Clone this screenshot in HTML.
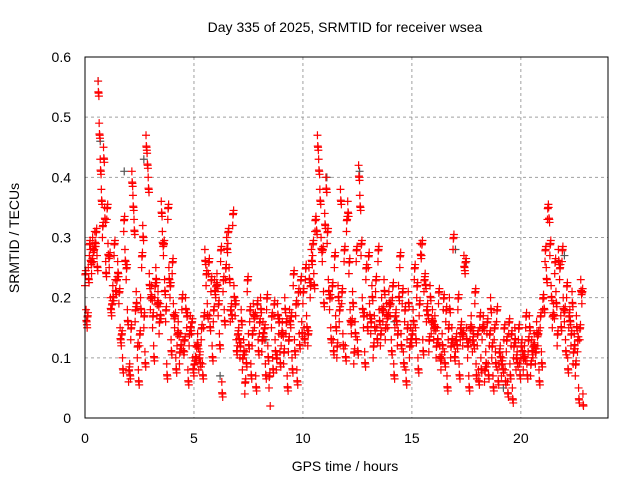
<!DOCTYPE html>
<html><head><meta charset="utf-8"><style>
body{margin:0;background:#fff;}
svg{font-family:"Liberation Sans",sans-serif;}
</style></head><body>
<svg id="chart" width="640" height="480" xmlns="http://www.w3.org/2000/svg">
<rect width="640" height="480" fill="#fff"/>
<text x="345" y="32" font-size="14" text-anchor="middle">Day 335 of 2025, SRMTID for receiver wsea</text>
<g id="grid"></g>
<g id="ticks"></g>
<g id="grayPts"></g>
<g id="redPts"></g>
<rect x="85" y="57" width="523" height="361" fill="none" stroke="#000"/>
<text x="345" y="471" font-size="14" text-anchor="middle">GPS time / hours</text>
<text x="19" y="238" font-size="14" text-anchor="middle" transform="rotate(-90 19 238)">SRMTID / TECUs</text>
</svg>
<script>
const xTicks=[0,5,10,15,20];
const yTicks=[0,0.1,0.2,0.3,0.4,0.5,0.6];
const yTickLabels=["0","0.1","0.2","0.3","0.4","0.5","0.6"];
const hourStarts=[0,1,2,3,4,5,6,7,8,9,10,11,12,13,14,15,16,17,18,19,20,21,22];
const redValues=[
[0.22,0.18,0.15,0.25,0.27,0.28,0.24,0.30,0.26,0.31,0.29,0.27,0.56,0.49,0.43,0.38,0.30,0.45,0.35,0.26],
[0.33,0.29,0.25,0.20,0.17,0.22,0.27,0.23,0.21,0.26,0.19,0.15,0.12,0.10,0.31,0.28,0.23,0.18],
[0.06,0.09,0.13,0.41,0.37,0.33,0.16,0.21,0.10,0.08,0.12,0.20,0.25,0.32,0.15,0.11,0.47,0.44,0.40,0.24],
[0.18,0.22,0.15,0.12,0.20,0.25,0.17,0.21,0.14,0.19,0.36,0.31,0.27,0.23,0.16,0.09,0.33,0.25,0.20,0.13],
[0.24,0.19,0.15,0.10,0.12,0.16,0.09,0.14,0.18,0.13,0.11,0.20,0.15,0.08,0.12,0.17,0.14,0.10],
[0.07,0.12,0.10,0.14,0.08,0.11,0.13,0.09,0.15,0.28,0.22,0.19,0.24,0.17,0.21,0.12,0.16,0.23],
[0.20,0.24,0.17,0.14,0.26,0.06,0.21,0.18,0.23,0.30,0.29,0.25,0.16,0.19,0.32,0.22,0.17,0.13],
[0.12,0.15,0.10,0.18,0.08,0.13,0.04,0.11,0.21,0.14,0.16,0.09,0.12,0.19,0.15,0.07,0.17,0.13],
[0.14,0.20,0.11,0.16,0.13,0.09,0.18,0.12,0.05,0.02,0.15,0.10,0.17,0.13,0.08,0.19,0.14,0.11],
[0.12,0.16,0.09,0.20,0.14,0.07,0.11,0.18,0.15,0.10,0.22,0.13,0.17,0.08,0.19,0.14,0.21,0.16],
[0.19,0.15,0.23,0.17,0.12,0.25,0.20,0.28,0.27,0.24,0.31,0.33,0.47,0.43,0.38,0.30,0.26,0.21],
[0.34,0.40,0.29,0.23,0.18,0.15,0.20,0.13,0.25,0.17,0.10,0.22,0.16,0.38,0.19,0.14,0.26,0.12],
[0.31,0.36,0.24,0.18,0.14,0.21,0.09,0.16,0.26,0.13,0.42,0.37,0.27,0.20,0.15,0.11,0.23,0.17],
[0.25,0.19,0.14,0.22,0.10,0.17,0.21,0.15,0.26,0.18,0.12,0.20,0.16,0.23,0.13,0.19,0.15,0.21],
[0.17,0.13,0.20,0.09,0.15,0.18,0.12,0.22,0.25,0.14,0.19,0.11,0.16,0.08,0.13,0.21,0.10,0.15],
[0.12,0.18,0.23,0.15,0.20,0.10,0.17,0.29,0.27,0.13,0.21,0.24,0.16,0.19,0.11,0.22,0.14,0.18],
[0.13,0.17,0.10,0.15,0.19,0.12,0.08,0.14,0.18,0.11,0.16,0.07,0.13,0.20,0.10,0.15,0.28,0.12],
[0.11,0.14,0.18,0.09,0.13,0.16,0.12,0.27,0.24,0.15,0.10,0.07,0.13,0.17,0.11,0.14,0.19,0.09],
[0.12,0.08,0.15,0.10,0.13,0.17,0.06,0.11,0.14,0.09,0.12,0.20,0.10,0.07,0.13,0.11,0.16,0.08],
[0.09,0.12,0.07,0.10,0.13,0.08,0.11,0.06,0.14,0.09,0.12,0.05,0.10,0.15,0.08,0.11,0.13,0.09],
[0.10,0.13,0.08,0.12,0.15,0.09,0.11,0.17,0.07,0.13,0.10,0.14,0.09,0.16,0.12,0.08,0.15,0.11],
[0.18,0.20,0.26,0.25,0.33,0.35,0.27,0.22,0.15,0.19,0.24,0.21,0.12,0.28,0.23,0.17,0.26,0.20],
[0.16,0.13,0.20,0.10,0.15,0.18,0.12,0.21,0.09,0.14,0.07,0.17,0.11,0.05,0.13,0.23,0.19,0.04]];
const grayTimes=[0.6,0.7,1.8,2.7,6.2,11.1,12.6,17.0,17.5,19.2,22.0,8.3,14.2];
const grayValues=[0.56,0.46,0.41,0.43,0.07,0.40,0.41,0.28,0.26,0.05,0.27,0.13,0.16];

const NS="http://www.w3.org/2000/svg";
const X=t=>85+t*(523/24);
const Y=v=>418-v*(361/0.6);
const grid=document.getElementById('grid'),ticks=document.getElementById('ticks');
function mk(tag,attrs,parent){const e=document.createElementNS(NS,tag);for(const k in attrs)e.setAttribute(k,attrs[k]);parent.appendChild(e);return e;}
xTicks.forEach(t=>{
  if(t>0){const g=mk('line',{x1:X(t),x2:X(t),y1:57,y2:418,stroke:'#a0a0a0','stroke-dasharray':'3,3'},grid);
  
  }
  const l=mk('text',{x:X(t),y:443,'font-size':14,'text-anchor':'middle'},ticks);l.textContent=t;
  
  
});
yTicks.forEach((v,i)=>{
  if(v>0&&v<0.6){const g=mk('line',{x1:85,x2:608,y1:Y(v),y2:Y(v),stroke:'#a0a0a0','stroke-dasharray':'3,3'},grid);
  
  }
  const l=mk('text',{x:71,y:Y(v)+5,'font-size':14,'text-anchor':'end'},ticks);l.textContent=yTickLabels[i];
  
  
});
function cross(t,v,color,parent){
  const x=X(t),y=Y(v);
  const p=mk('path',{d:`M${x-4},${y}H${x+4}M${x},${y-4}V${y+4}`,stroke:color,'stroke-width':1.2,fill:'none'},parent);
  
  
}
const gp=document.getElementById('grayPts'),rp=document.getElementById('redPts');
grayTimes.forEach((t,i)=>cross(t,grayValues[i],'#555',gp));
const offs=[[0,0],[0.25,0.018],[0.5,-0.02],[0.75,0.025]];
hourStarts.forEach((h,hi)=>{
  const vals=redValues[hi];const span=h===22?0.9:1;const step=span/vals.length;
  vals.forEach((v,i)=>{
    const t=h+step*i;
    offs.forEach((o,k)=>{
      let d=o[1]*((i+k)%2?1:-1);
      if(v>0.33) d=-Math.abs(d);
      const vv=k===0?v:v+d;
      if(vv>0.015) cross(t+step*o[0],vv,'#f00',rp);
    });
  });
});
</script>
</body></html>
